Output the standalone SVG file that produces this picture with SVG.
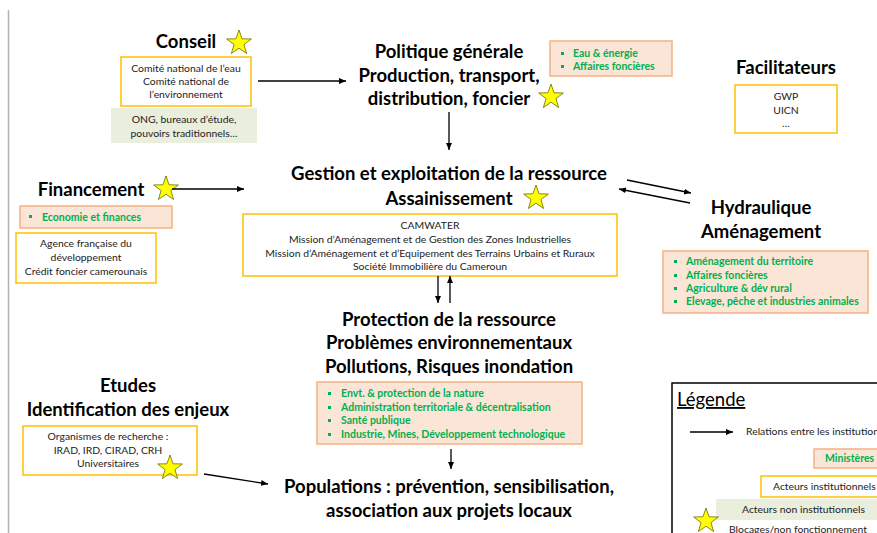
<svg xmlns="http://www.w3.org/2000/svg" xmlns:xlink="http://www.w3.org/1999/xlink" width="877" height="533" viewBox="0 0 877 533">
<style>
.t{font-family:Lato,"Liberation Sans",sans-serif;font-weight:bold;font-size:18.5px;fill:#000;text-anchor:middle}
.s{font-family:Lato,"Liberation Sans",sans-serif;font-size:10.4px;fill:#222;text-anchor:middle}
.m{font-family:Lato,"Liberation Sans",sans-serif;font-size:10.5px;font-weight:bold;fill:#00b050}
.l{font-family:Lato,"Liberation Sans",sans-serif;font-size:10.4px;fill:#222}
.ob{fill:#fff;stroke:#ffc000;stroke-width:1.5}
.mb{fill:#fbe5d6;stroke:#f4b183;stroke-width:1.5}
.gb{fill:#e9eedd;stroke:none}
.bl{fill:#00b050}
.ln{stroke:#000;stroke-width:1.3;fill:none;marker-end:url(#ah)}
</style>
<defs>
<marker id="ah" markerWidth="8" markerHeight="8" refX="7" refY="4" orient="auto" markerUnits="userSpaceOnUse"><path d="M0,1 L7,4 L0,7 Z" fill="#000"/></marker>
<polygon id="star" points="0,-13 3.06,-4.21 12.36,-4.02 4.95,1.61 7.64,10.52 0,5.2 -7.64,10.52 -4.95,1.61 -12.36,-4.02 -3.06,-4.21" fill="#ffff00" stroke="#6b6b00" stroke-width="0.8"/>
</defs>
<rect width="877" height="533" fill="#fff"/>
<line x1="8.5" y1="10" x2="8.5" y2="533" stroke="#aab3b8" stroke-width="1.5"/>

<g id="conseil">
<text class="t" x="186" y="48">Conseil</text>
<use xlink:href="#star" x="239" y="43"/>
<rect class="ob" x="121" y="57" width="130" height="49"/>
<text class="s" x="186" y="72">Comité national de l’eau</text>
<text class="s" x="186" y="85">Comité national de</text>
<text class="s" x="186" y="98">l’environnement</text>
<rect class="gb" x="111" y="108" width="146" height="35"/>
<text class="s" x="184" y="123">ONG, bureaux d’étude,</text>
<text class="s" x="184" y="137">pouvoirs traditionnels…</text>
</g>

<g id="politique">
<text class="t" x="449" y="58">Politique générale</text>
<text class="t" x="449" y="82">Production, transport,</text>
<text class="t" x="449" y="105">distribution, foncier</text>
<use xlink:href="#star" x="551" y="97"/>
<rect class="mb" x="550" y="41" width="122" height="35"/>
<rect class="bl" x="561" y="52" width="3" height="3"/>
<text class="m" x="573" y="57">Eau &amp; énergie</text>
<rect class="bl" x="561" y="65" width="3" height="3"/>
<text class="m" x="573" y="70">Affaires foncières</text>
</g>

<g id="facilitateurs">
<text class="t" x="786" y="74">Facilitateurs</text>
<rect class="ob" x="735" y="85" width="102" height="48"/>
<text class="s" x="786" y="100">GWP</text>
<text class="s" x="786" y="114">UICN</text>
<text class="s" x="786" y="127">…</text>
</g>

<g id="gestion">
<text class="t" x="449" y="180">Gestion et exploitation de la ressource</text>
<text class="t" x="449" y="205">Assainissement</text>
<use xlink:href="#star" x="536" y="198"/>
<rect class="ob" x="243" y="214" width="374" height="62"/>
<text class="s" x="430" y="229">CAMWATER</text>
<text class="s" x="430" y="243">Mission d’Aménagement et de Gestion des Zones Industrielles</text>
<text class="s" x="430" y="257">Mission d’Aménagement et d’Equipement des Terrains Urbains et Ruraux</text>
<text class="s" x="430" y="270">Société Immobilière du Cameroun</text>
</g>

<g id="financement">
<text class="t" x="91" y="196">Financement</text>
<use xlink:href="#star" x="166" y="189"/>
<rect class="mb" x="20" y="206" width="152" height="22"/>
<rect class="bl" x="29" y="215" width="3" height="3"/>
<text class="m" x="42" y="221">Economie et finances</text>
<rect class="ob" x="16" y="233" width="140" height="50"/>
<text class="s" x="86" y="247">Agence française du</text>
<text class="s" x="86" y="261">développement</text>
<text class="s" x="86" y="275">Crédit foncier camerounais</text>
</g>

<g id="hydraulique">
<text class="t" x="761" y="214">Hydraulique</text>
<text class="t" x="761" y="238">Aménagement</text>
<rect class="mb" x="663" y="251" width="205" height="62"/>
<rect class="bl" x="674" y="260" width="3" height="3"/>
<text class="m" x="686" y="265">Aménagement du territoire</text>
<rect class="bl" x="674" y="274" width="3" height="3"/>
<text class="m" x="686" y="279">Affaires foncières</text>
<rect class="bl" x="674" y="287" width="3" height="3"/>
<text class="m" x="686" y="292">Agriculture &amp; dév rural</text>
<rect class="bl" x="674" y="300" width="3" height="3"/>
<text class="m" x="686" y="305">Elevage, pêche et industries animales</text>
</g>

<g id="protection">
<text class="t" x="449" y="326">Protection de la ressource</text>
<text class="t" x="449" y="349">Problèmes environnementaux</text>
<text class="t" x="449" y="373">Pollutions, Risques inondation</text>
<rect class="mb" x="317" y="382" width="265" height="62"/>
<rect class="bl" x="328" y="392" width="3" height="3"/>
<text class="m" x="341" y="397">Envt. &amp; protection de la nature</text>
<rect class="bl" x="328" y="406" width="3" height="3"/>
<text class="m" x="341" y="411">Administration territoriale &amp; décentralisation</text>
<rect class="bl" x="328" y="419" width="3" height="3"/>
<text class="m" x="341" y="424">Santé publique</text>
<rect class="bl" x="328" y="433" width="3" height="3"/>
<text class="m" x="341" y="438">Industrie, Mines, Développement technologique</text>
</g>

<g id="etudes">
<text class="t" x="128" y="392">Etudes</text>
<text class="t" x="128" y="416">Identification des enjeux</text>
<rect class="ob" x="23" y="426" width="174" height="49"/>
<text class="s" x="108" y="440">Organismes de recherche :</text>
<text class="s" x="108" y="454">IRAD, IRD, CIRAD, CRH</text>
<text class="s" x="108" y="467">Universitaires</text>
<use xlink:href="#star" x="170" y="468"/>
</g>

<g id="populations">
<text class="t" x="449" y="493">Populations : prévention, sensibilisation,</text>
<text class="t" x="449" y="517">association aux projets locaux</text>
</g>

<g id="legende">
<rect x="672" y="383" width="220" height="170" fill="#fff" stroke="#000" stroke-width="1.5"/>
<text x="677" y="406" font-family="Lato,'Liberation Sans',sans-serif" font-size="18.5" text-decoration="underline">Légende</text>
<line class="ln" x1="690" y1="432" x2="733" y2="432"/>
<text class="l" x="746" y="435">Relations entre les institutions</text>
<rect class="mb" x="814" y="449" width="70" height="19"/>
<text class="m" x="825" y="462">Ministères</text>
<rect class="ob" x="761" y="476" width="125" height="21"/>
<text class="l" x="773" y="490">Acteurs institutionnels</text>
<rect class="gb" x="716" y="499" width="165" height="21"/>
<text class="l" x="742" y="513">Acteurs non institutionnels</text>
<use xlink:href="#star" x="706" y="521"/>
<text class="l" x="729" y="533">Blocages/non fonctionnement</text>
</g>

<g id="connectors">
<line class="ln" x1="258" y1="81" x2="346" y2="81"/>
<line class="ln" x1="449" y1="112" x2="449" y2="150"/>
<line class="ln" x1="172" y1="189" x2="244" y2="189"/>
<line class="ln" x1="627" y1="180" x2="691" y2="193"/>
<line class="ln" x1="690" y1="203" x2="619" y2="189"/>
<line class="ln" x1="438" y1="276" x2="438" y2="303"/>
<line class="ln" x1="450" y1="303" x2="450" y2="276"/>
<line class="ln" x1="451" y1="449" x2="451" y2="469"/>
<line class="ln" x1="204" y1="474" x2="268" y2="484"/>
</g>
</svg>
